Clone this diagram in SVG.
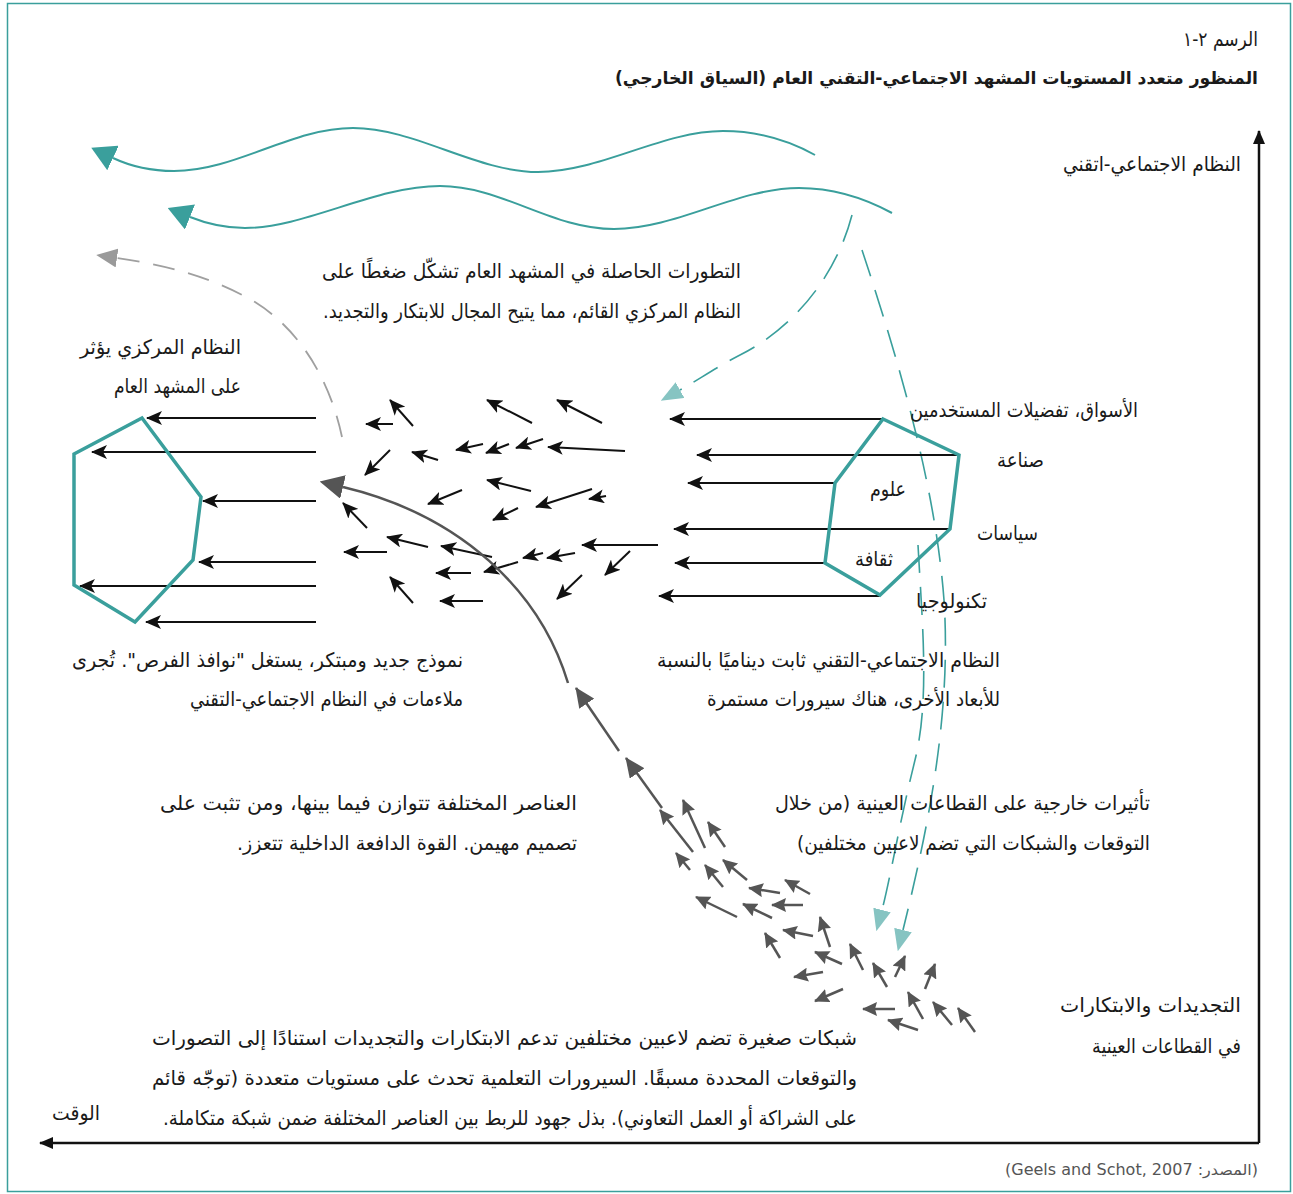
<svg xmlns="http://www.w3.org/2000/svg" width="1293" height="1194" viewBox="0 0 1293 1194">
<style>
.t{font-family:"DejaVu Sans","Noto Sans",sans-serif;font-size:20px;fill:#1a1a1a;direction:rtl;text-anchor:start}
.tb{font-weight:bold;font-size:17.2px}
.src{font-size:15px;fill:#555}
.hex{fill:none;stroke:#3a9f9c;stroke-width:3.5;stroke-linejoin:miter}
.wave{fill:none;stroke:#3a9f9c;stroke-width:2}
.blk{fill:none;stroke:#111;stroke-width:2;marker-end:url(#ah)}
.gr{fill:none;stroke:#555;stroke-width:2.5;marker-end:url(#gh)}
.dt{fill:none;stroke:#3a9f9c;stroke-width:1.6;stroke-dasharray:28 14}
.dg{fill:none;stroke:#a0a0a0;stroke-width:1.8;stroke-dasharray:22 14}
</style>
<defs>
<marker id="ah" viewBox="0 0 16 14" refX="15" refY="7" markerWidth="16" markerHeight="14" markerUnits="userSpaceOnUse" orient="auto"><path d="M0,0 L16,7 L0,14 L4,7 z" fill="#111"/></marker>
<marker id="gh" viewBox="0 0 15 14" refX="14" refY="7" markerWidth="15" markerHeight="14" markerUnits="userSpaceOnUse" orient="auto"><path d="M0,0 L15,7 L0,14 L2,7 z" fill="#555"/></marker>
<marker id="gbig" viewBox="0 0 20 18" refX="19" refY="9" markerWidth="20" markerHeight="18" markerUnits="userSpaceOnUse" orient="auto"><path d="M0,0 L20,9 L0,18 z" fill="#555"/></marker>
<marker id="curveh" viewBox="0 0 24 24" refX="0" refY="12" markerWidth="24" markerHeight="24" markerUnits="userSpaceOnUse" orient="auto"><path d="M0,0 L24,12 L0,24 z" fill="#555"/></marker>
<marker id="wh" viewBox="0 0 24 27" refX="0" refY="13.5" markerWidth="24" markerHeight="27" markerUnits="userSpaceOnUse" orient="auto"><path d="M0,0 L24,13.5 L0,27 z" fill="#3a9f9c"/></marker>
<marker id="lth" viewBox="0 0 22 18" refX="0" refY="9" markerWidth="22" markerHeight="18" markerUnits="userSpaceOnUse" orient="auto"><path d="M0,0 L22,9 L0,18 z" fill="#86c4c2"/></marker>
<marker id="ggh" viewBox="0 0 21 19" refX="0" refY="9.5" markerWidth="21" markerHeight="19" markerUnits="userSpaceOnUse" orient="auto"><path d="M0,0 L21,9.5 L0,19 z" fill="#9a9a9a"/></marker>
<marker id="axh" viewBox="0 0 14 12" refX="13" refY="6" markerWidth="14" markerHeight="12" markerUnits="userSpaceOnUse" orient="auto"><path d="M0,0 L14,6 L0,12 z" fill="#111"/></marker>
</defs>
<rect x="7.5" y="3.5" width="1283" height="1188" fill="#fff" stroke="#3a9f9c" stroke-width="1.5"/>

<g id="title">
<text class="t" x="1258" y="46" font-size="17" textLength="75" lengthAdjust="spacingAndGlyphs">الرسم ٢-١</text>
<text class="t tb" x="1258" y="84">المنظور متعدد المستويات المشهد الاجتماعي-التقني العام (السياق الخارجي)</text>
</g>

<g id="axes">
<line x1="1259" y1="1143" x2="1259" y2="131" stroke="#111" stroke-width="2.5" marker-end="url(#axh)"/>
<line x1="1259" y1="1143" x2="40" y2="1143" stroke="#111" stroke-width="2.5" marker-end="url(#axh)"/>
<text class="t" x="1241" y="171" textLength="178" lengthAdjust="spacingAndGlyphs">النظام الاجتماعي-اتقني</text>
<text class="t" x="100" y="1120" textLength="48" lengthAdjust="spacingAndGlyphs">الوقت</text>
</g>

<g id="connectors">
<path class="wave" d="M815,155 C790,141 760,131 723,131 C662,131 600,172 538,172 C476,172 415,128 353,128 C291,128 236,171 174,171 C150,171 130,166 113,158" marker-end="url(#wh)"/>
<path class="wave" d="M892,213 C868,200 835,188 799,188 C737,188 677,229 614,229 C551,229 502,186 440,186 C375,186 305,228 245,228 C222,228 205,223 190,217" marker-end="url(#wh)"/>
<path class="dg" d="M342,437 C330,380 300,330 255,302 C210,276 165,265 117,258" marker-end="url(#ggh)"/>
<path class="dt" d="M852,215 C835,280 790,330 740,355 C715,368 698,380 680,390" marker-end="url(#lth)"/>
<path class="dt" d="M862,250 C895,350 935,480 944,600 C952,720 925,840 903,930" marker-end="url(#lth)"/>
<path class="dt" d="M918,545 C922,620 930,700 915,760 C900,820 890,880 882,910" marker-end="url(#lth)"/>

<line class="blk" x1="316" y1="418" x2="147" y2="418"/>
<line class="blk" x1="316" y1="452" x2="92" y2="452"/>
<line class="blk" x1="316" y1="501" x2="203" y2="501"/>
<line class="blk" x1="316" y1="562" x2="199" y2="562"/>
<line class="blk" x1="316" y1="586" x2="80" y2="586"/>
<line class="blk" x1="316" y1="622" x2="146" y2="622"/>

<line class="blk" x1="883" y1="419" x2="670" y2="419"/>
<line class="blk" x1="959" y1="455" x2="697" y2="455"/>
<line class="blk" x1="835" y1="483" x2="688" y2="483"/>
<line class="blk" x1="950" y1="529" x2="674" y2="529"/>
<line class="blk" x1="825" y1="563" x2="675" y2="563"/>
<line class="blk" x1="880" y1="596" x2="659" y2="596"/>

<line class="blk" x1="393" y1="424" x2="366" y2="424"/>
<line class="blk" x1="413" y1="426" x2="390" y2="400"/>
<line class="blk" x1="532" y1="423" x2="487" y2="400"/>
<line class="blk" x1="602" y1="423" x2="557" y2="400"/>
<line class="blk" x1="390" y1="450" x2="365" y2="475"/>
<line class="blk" x1="438" y1="460" x2="412" y2="452"/>
<line class="blk" x1="483" y1="444" x2="456" y2="450"/>
<line class="blk" x1="509" y1="444" x2="486" y2="453"/>
<line class="blk" x1="543" y1="439" x2="516" y2="448"/>
<line class="blk" x1="625" y1="451" x2="548" y2="447"/>
<line class="blk" x1="462" y1="490" x2="428" y2="504"/>
<line class="blk" x1="531" y1="491" x2="487" y2="480"/>
<line class="blk" x1="592" y1="489" x2="536" y2="507"/>
<line class="blk" x1="606" y1="496" x2="589" y2="499"/>
<line class="blk" x1="518" y1="508" x2="493" y2="520"/>
<line class="blk" x1="367" y1="528" x2="343" y2="503"/>
<line class="blk" x1="387" y1="552" x2="344" y2="552"/>
<line class="blk" x1="428" y1="547" x2="387" y2="537"/>
<line class="blk" x1="492" y1="557" x2="441" y2="546"/>
<line class="blk" x1="518" y1="562" x2="484" y2="572"/>
<line class="blk" x1="543" y1="553" x2="523" y2="558"/>
<line class="blk" x1="575" y1="553" x2="547" y2="558"/>
<line class="blk" x1="658" y1="545" x2="582" y2="545"/>
<line class="blk" x1="630" y1="551" x2="605" y2="575"/>
<line class="blk" x1="471" y1="573" x2="436" y2="573"/>
<line class="blk" x1="582" y1="575" x2="557" y2="599"/>
<line class="blk" x1="413" y1="603" x2="390" y2="577"/>
<line class="blk" x1="483" y1="601" x2="440" y2="601"/>

<path d="M568,683 C540,590 460,515 343,487" fill="none" stroke="#555" stroke-width="2.5" marker-end="url(#curveh)"/>
<line x1="619" y1="751" x2="576" y2="688" stroke="#555" stroke-width="2.5" marker-end="url(#gbig)"/>
<line x1="662" y1="808" x2="626" y2="758" stroke="#555" stroke-width="2.5" marker-end="url(#gbig)"/>

<line class="gr" x1="693" y1="852" x2="660" y2="810"/>
<line class="gr" x1="705" y1="848" x2="683" y2="800"/>
<line class="gr" x1="725" y1="847" x2="708" y2="822"/>
<line class="gr" x1="690" y1="870" x2="676" y2="853"/>
<line class="gr" x1="723" y1="887" x2="705" y2="865"/>
<line class="gr" x1="747" y1="880" x2="723" y2="860"/>
<line class="gr" x1="780" y1="893" x2="749" y2="888"/>
<line class="gr" x1="810" y1="894" x2="785" y2="880"/>
<line class="gr" x1="737" y1="917" x2="696" y2="897"/>
<line class="gr" x1="772" y1="918" x2="743" y2="904"/>
<line class="gr" x1="803" y1="905" x2="772" y2="905"/>
<line class="gr" x1="780" y1="958" x2="765" y2="933"/>
<line class="gr" x1="813" y1="936" x2="783" y2="930"/>
<line class="gr" x1="830" y1="947" x2="820" y2="917"/>
<line class="gr" x1="842" y1="964" x2="815" y2="952"/>
<line class="gr" x1="863" y1="970" x2="850" y2="944"/>
<line class="gr" x1="823" y1="972" x2="794" y2="977"/>
<line class="gr" x1="887" y1="987" x2="873" y2="963"/>
<line class="gr" x1="895" y1="977" x2="905" y2="956"/>
<line class="gr" x1="925" y1="989" x2="935" y2="964"/>
<line class="gr" x1="843" y1="989" x2="815" y2="1001"/>
<line class="gr" x1="895" y1="1009" x2="863" y2="1009"/>
<line class="gr" x1="923" y1="1019" x2="908" y2="992"/>
<line class="gr" x1="952" y1="1025" x2="933" y2="1002"/>
<line class="gr" x1="975" y1="1032" x2="958" y2="1008"/>
<line class="gr" x1="918" y1="1030" x2="888" y2="1020"/>
</g>

<g id="regime-left">
<polygon class="hex" points="142,418 201,497 193,560 135,622 74,585 74,454"/>
</g>

<g id="regime-right">
<polygon class="hex" points="883,419 959,455 950,529 880,595 825,563 835,483"/>
<text class="t" x="906" y="496" textLength="36" lengthAdjust="spacingAndGlyphs">علوم</text>
<text class="t" x="893" y="566" textLength="38" lengthAdjust="spacingAndGlyphs">ثقافة</text>
</g>

<g id="dimension-labels">
<text class="t" x="1138" y="417" textLength="228" lengthAdjust="spacingAndGlyphs">الأسواق، تفضيلات المستخدمين</text>
<text class="t" x="1044" y="467" textLength="47" lengthAdjust="spacingAndGlyphs">صناعة</text>
<text class="t" x="1038" y="540" textLength="61" lengthAdjust="spacingAndGlyphs">سياسات</text>
<text class="t" x="987" y="608" textLength="71" lengthAdjust="spacingAndGlyphs">تكنولوجيا</text>
</g>

<g id="note-landscape">
<text class="t" x="741" y="278" textLength="419" lengthAdjust="spacingAndGlyphs">التطورات الحاصلة في المشهد العام تشكّل ضغطًا على</text>
<text class="t" x="741" y="318" textLength="418" lengthAdjust="spacingAndGlyphs">النظام المركزي القائم، مما يتيح المجال للابتكار والتجديد.</text>
</g>

<g id="note-regime-influence">
<text class="t" x="241" y="354" textLength="161" lengthAdjust="spacingAndGlyphs">النظام المركزي يؤثر</text>
<text class="t" x="241" y="393" textLength="127" lengthAdjust="spacingAndGlyphs">على المشهد العام</text>
</g>

<g id="note-novelty">
<text class="t" x="463" y="667" textLength="391" lengthAdjust="spacingAndGlyphs">نموذج جديد ومبتكر، يستغل "نوافذ الفرص". تُجرى</text>
<text class="t" x="463" y="706" textLength="273" lengthAdjust="spacingAndGlyphs">ملاءمات في النظام الاجتماعي-التقني</text>
</g>

<g id="note-regime-stable">
<text class="t" x="1000" y="667" textLength="343" lengthAdjust="spacingAndGlyphs">النظام الاجتماعي-التقني ثابت ديناميًا بالنسبة</text>
<text class="t" x="1000" y="706" textLength="293" lengthAdjust="spacingAndGlyphs">للأبعاد الأخرى، هناك سيرورات مستمرة</text>
</g>

<g id="note-elements">
<text class="t" x="577" y="810" textLength="417" lengthAdjust="spacingAndGlyphs">العناصر المختلفة تتوازن فيما بينها، ومن تثبت على</text>
<text class="t" x="577" y="850" textLength="340" lengthAdjust="spacingAndGlyphs">تصميم مهيمن. القوة الدافعة الداخلية تتعزز.</text>
</g>

<g id="note-external">
<text class="t" x="1150" y="810" textLength="375" lengthAdjust="spacingAndGlyphs">تأثيرات خارجية على القطاعات العينية (من خلال</text>
<text class="t" x="1150" y="850" textLength="353" lengthAdjust="spacingAndGlyphs">التوقعات والشبكات التي تضم لاعبين مختلفين)</text>
</g>

<g id="note-niches">
<text class="t" x="1241" y="1012" textLength="181" lengthAdjust="spacingAndGlyphs">التجديدات والابتكارات</text>
<text class="t" x="1241" y="1053" textLength="149" lengthAdjust="spacingAndGlyphs">في القطاعات العينية</text>
</g>

<g id="note-networks">
<text class="t" x="857" y="1045" textLength="705" lengthAdjust="spacingAndGlyphs">شبكات صغيرة تضم لاعبين مختلفين تدعم الابتكارات والتجديدات استنادًا إلى التصورات</text>
<text class="t" x="857" y="1085" textLength="705" lengthAdjust="spacingAndGlyphs">والتوقعات المحددة مسبقًا. السيرورات التعلمية تحدث على مستويات متعددة (توجّه قائم</text>
<text class="t" x="857" y="1125" textLength="694" lengthAdjust="spacingAndGlyphs">على الشراكة أو العمل التعاوني). بذل جهود للربط بين العناصر المختلفة ضمن شبكة متكاملة.</text>
</g>

<g id="source">
<text class="t src" x="1258" y="1175" textLength="253" lengthAdjust="spacingAndGlyphs">(المصدر: Geels and Schot, 2007)</text>
</g>
</svg>
